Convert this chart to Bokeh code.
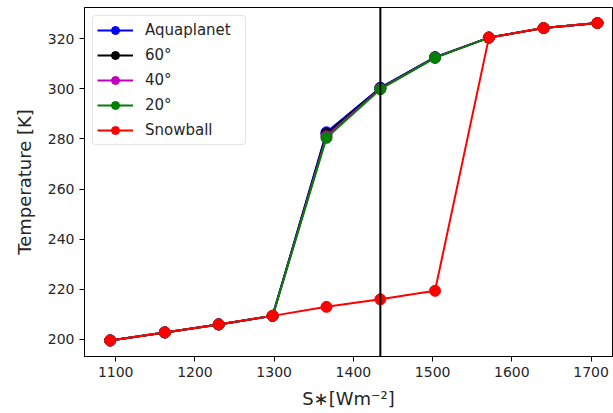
from bokeh.plotting import figure
from bokeh.models import Span, Legend, FixedTicker
from bokeh.embed import file_html
from bokeh.resources import INLINE

# Stellar flux values [W m^-2]
s_star = [1093, 1162, 1230, 1298, 1366, 1434, 1503, 1571, 1640, 1708]

# Equilibrium temperatures [K] for each starting state
aquaplanet = [199.6, 202.8, 206.0, 209.4, 282.6, 300.4, 312.6, 320.4, 324.2, 326.2]
lat_60 = [199.6, 202.8, 206.0, 209.4, 282.0, 300.2, 312.5, 320.4, 324.2, 326.2]
lat_40 = [199.6, 202.8, 206.0, 209.4, 281.0, 300.0, 312.4, 320.4, 324.2, 326.2]
lat_20 = [199.6, 202.8, 206.0, 209.4, 280.4, 299.8, 312.3, 320.4, 324.2, 326.2]
snowball = [199.6, 202.8, 206.0, 209.4, 213.0, 216.0, 219.4, 320.4, 324.2, 326.2]

series_names = ["Aquaplanet", "60°", "40°", "20°", "Snowball"]
series_colors = ["#0000ff", "#000000", "#bf00bf", "#008000", "#ff0000"]
series_values = [aquaplanet, lat_60, lat_40, lat_20, snowball]

present_flux = 1434

x_ticks = [1100, 1200, 1300, 1400, 1500, 1600, 1700]
y_ticks = [200, 220, 240, 260, 280, 300, 320]

FONT = "DejaVu Sans"

p = figure(
    width=613, height=413,
    x_range=(1060.6, 1727), y_range=(193.2, 332.4),
    output_backend="svg", toolbar_location=None,
    min_border_left=84, min_border_right=1,
    min_border_top=7, min_border_bottom=57,
)
p.background_fill_color = "white"
p.border_fill_color = "white"
p.outline_line_color = "black"
p.outline_line_width = 1
p.xgrid.visible = False
p.ygrid.visible = False

p.xaxis.ticker = FixedTicker(ticks=x_ticks)
p.yaxis.ticker = FixedTicker(ticks=y_ticks)
for ax in (p.xaxis[0], p.yaxis[0]):
    ax.axis_line_color = "black"
    ax.major_tick_line_color = "black"
    ax.major_tick_out = 5
    ax.major_tick_in = 0
    ax.minor_tick_line_color = None
    ax.major_label_text_font = FONT
    ax.major_label_text_font_size = "14px"
    ax.major_label_text_color = "#262626"
    ax.axis_label_text_font = FONT
    ax.axis_label_text_font_size = "18px"
    ax.axis_label_text_font_style = "normal"
    ax.axis_label_text_color = "#262626"

p.xaxis.axis_label = "S∗[Wm⁻²]"
p.yaxis.axis_label = "Temperature [K]"
p.xaxis.axis_label_standoff = 8
p.yaxis.axis_label_standoff = 10

items = []
for name, color, vals in zip(series_names, series_colors, series_values):
    ln = p.line(s_star, vals, line_color=color, line_width=2)
    sc = p.scatter(s_star, vals, size=11, fill_color=color, line_color=color)
    items.append((name, [ln, sc]))

p.add_layout(Span(location=present_flux, dimension="height",
                  line_color="black", line_width=2))

legend = Legend(items=items, location="top_left", margin=8,
                padding=4, spacing=5, glyph_width=36, glyph_height=20,
                label_height=20, label_standoff=12, label_width=96,
                label_text_font=FONT, label_text_font_size="15px",
                label_text_color="#262626",
                border_line_color="#cccccc", border_line_width=1,
                background_fill_color="white", background_fill_alpha=0.8)
if "border_radius" in Legend.properties():
    legend.border_radius = 4
p.add_layout(legend, "center")

open("out.html", "w").write(file_html(p, INLINE))
